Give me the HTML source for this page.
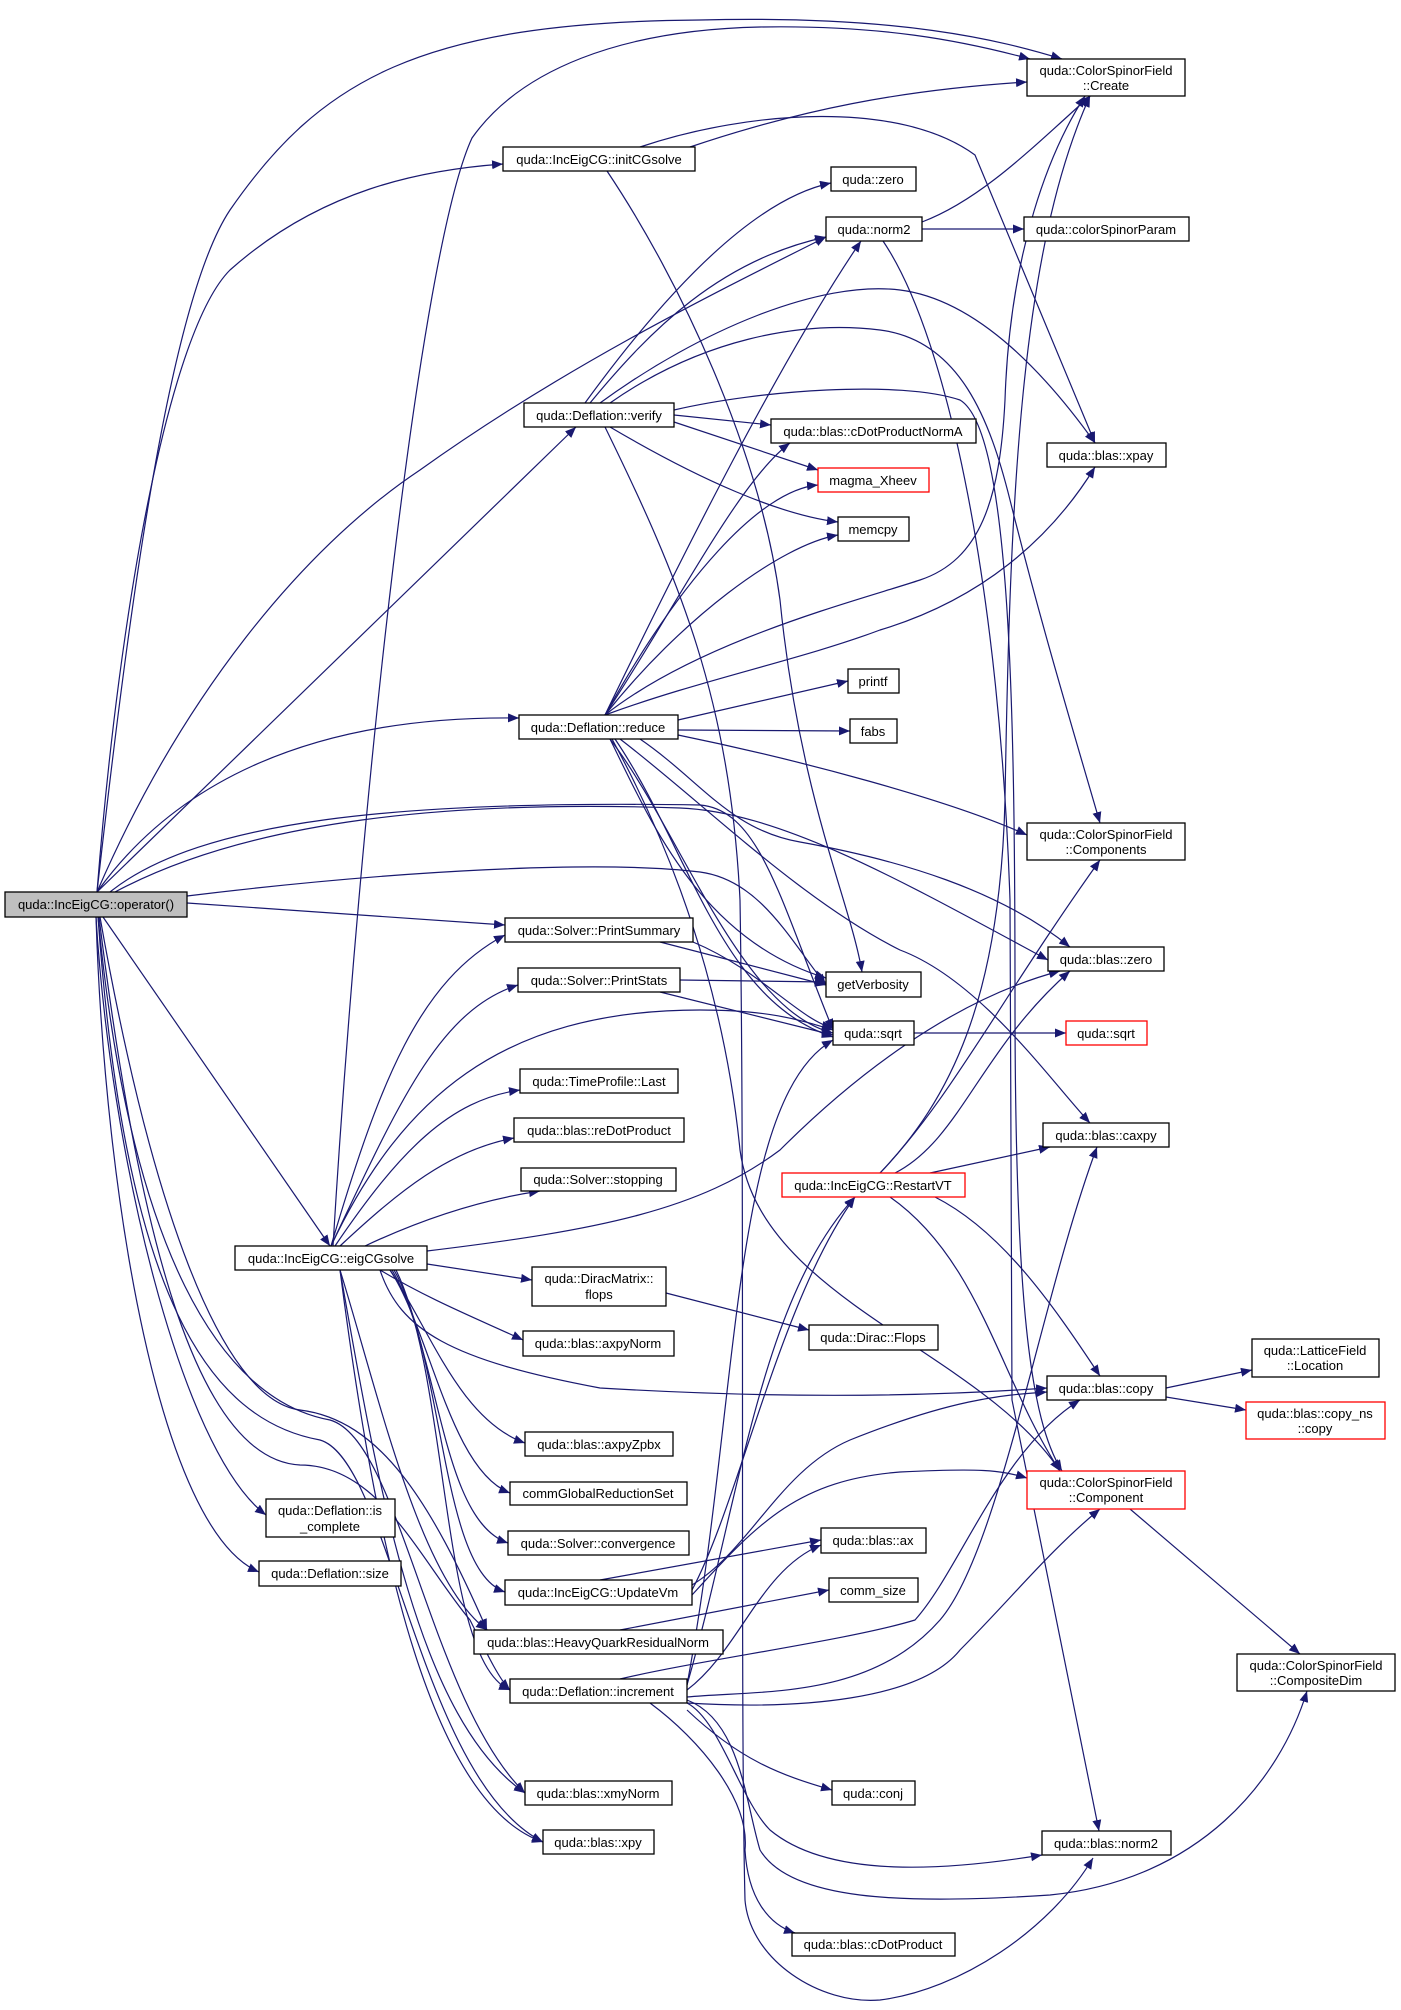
<!DOCTYPE html>
<html><head><meta charset="utf-8"><style>
html,body{margin:0;padding:0;background:#fff;}
svg{display:block;}
text{font-family:"Liberation Sans",Arial,sans-serif;font-size:13px;fill:#000;text-anchor:middle;}
.e{fill:none;stroke:#191970;stroke-width:1.2;marker-end:url(#a);}
.n{fill:#fff;stroke:#000;stroke-width:1.3;}
.r{fill:#fff;stroke:#ff0000;stroke-width:1.3;}
</style></head><body>
<svg width="1401" height="2010" viewBox="0 0 1401 2010" xmlns="http://www.w3.org/2000/svg">
<defs><marker id="a" markerUnits="userSpaceOnUse" markerWidth="12" markerHeight="10" refX="11" refY="4.5" orient="auto"><path d="M0,0 L11,4.5 L0,9 z" fill="#191970"/></marker></defs>
<g>
<path class="e" d="M97,892 C130,600 170,300 230,210 C320,80 420,22 700,20 C900,15 1000,40 1062,59"/>
<path class="e" d="M97,892 C120,600 170,330 230,270 C320,190 420,170 503,164"/>
<path class="e" d="M97,892 L576,427"/>
<path class="e" d="M97,892 C180,700 300,550 420,470 C560,370 700,300 826,237"/>
<path class="e" d="M97,892 C170,790 300,715 519,718"/>
<path class="e" d="M110,892 C200,820 400,800 700,805 C760,810 780,900 833,1030"/>
<path class="e" d="M115,892 C250,820 450,800 680,808 C780,812 900,880 1048,960"/>
<path class="e" d="M187,896 C400,870 600,860 700,872 C760,880 790,940 826,985"/>
<path class="e" d="M187,903 L505,925"/>
<path class="e" d="M103,917 L330,1246"/>
<path class="e" d="M96,917 C110,1150 180,1450 266,1515"/>
<path class="e" d="M96,917 C105,1200 160,1530 259,1572"/>
<path class="e" d="M100,917 C150,1200 220,1400 300,1410 C380,1420 430,1500 487,1630"/>
<path class="e" d="M99,917 C140,1250 200,1460 300,1465 C380,1465 420,1560 470,1620 C490,1660 500,1680 510,1690"/>
<path class="e" d="M98,917 C130,1250 220,1400 330,1420 C400,1440 430,1700 525,1793"/>
<path class="e" d="M98,917 C125,1300 210,1420 320,1440 C390,1460 420,1780 543,1842"/>
<path class="e" d="M690,147 C800,110 900,90 1027,82"/>
<path class="e" d="M640,147 C750,110 900,100 975,155 L1095,443"/>
<path class="e" d="M607,171 C680,280 760,450 780,600 C800,800 850,900 862,972"/>
<path class="e" d="M333,1246 C360,800 420,250 472,138 C520,70 620,30 760,27 C880,25 960,40 1030,59"/>
<path class="e" d="M585,403 C660,300 750,200 831,183"/>
<path class="e" d="M590,403 C650,330 720,260 826,237"/>
<path class="e" d="M600,403 C700,330 820,280 900,290 C980,300 1050,380 1095,443"/>
<path class="e" d="M610,403 C700,340 800,320 880,330 C960,340 990,420 1010,500 C1040,620 1070,720 1100,823"/>
<path class="e" d="M674,415 L771,425"/>
<path class="e" d="M674,422 L818,470"/>
<path class="e" d="M610,427 C700,480 780,515 838,522"/>
<path class="e" d="M674,410 C760,390 900,380 960,400 C1010,430 1015,700 1015,1000 C1015,1300 1030,1420 1062,1471"/>
<path class="e" d="M605,427 C680,580 730,700 740,900 C745,1200 740,1700 745,1900 C750,1960 820,2005 880,2000 C960,1990 1050,1930 1093,1858"/>
<path class="e" d="M922,222 C980,200 1030,150 1090,96"/>
<path class="e" d="M922,229 L1024,229"/>
<path class="e" d="M883,241 C950,340 1000,600 1010,900 L1012,1400 L1099,1831"/>
<path class="e" d="M605,715 C680,560 780,360 861,241"/>
<path class="e" d="M605,715 C680,600 740,480 790,443"/>
<path class="e" d="M605,715 C680,580 760,490 818,485"/>
<path class="e" d="M605,715 C680,620 780,545 838,535"/>
<path class="e" d="M605,715 C700,640 860,600 920,580 C980,560 1000,500 1005,400 C1010,250 1050,150 1085,96"/>
<path class="e" d="M605,715 C700,680 800,660 880,630 C980,600 1050,540 1095,467"/>
<path class="e" d="M678,720 L848,681"/>
<path class="e" d="M678,730 L850,731"/>
<path class="e" d="M678,735 C800,760 950,800 1027,835"/>
<path class="e" d="M640,739 C700,780 730,830 800,842 C900,860 1000,890 1070,947"/>
<path class="e" d="M610,739 C650,820 700,940 826,978"/>
<path class="e" d="M610,739 C680,830 740,1010 833,1033"/>
<path class="e" d="M615,739 C690,850 720,1000 833,1037"/>
<path class="e" d="M620,739 C700,800 800,900 900,950 C980,980 1050,1080 1090,1123"/>
<path class="e" d="M612,739 C700,900 730,1050 740,1150 C760,1300 980,1350 1060,1471"/>
<path class="e" d="M660,942 L826,985"/>
<path class="e" d="M693,942 C760,970 800,1020 833,1028"/>
<path class="e" d="M680,980 L826,982"/>
<path class="e" d="M660,992 L833,1035"/>
<path class="e" d="M331,1246 C380,1080 420,980 505,935"/>
<path class="e" d="M331,1246 C400,1100 440,1010 518,985"/>
<path class="e" d="M331,1246 C400,1100 500,1010 700,1010 C770,1010 800,1020 833,1030"/>
<path class="e" d="M335,1246 C400,1150 450,1100 520,1090"/>
<path class="e" d="M340,1246 C400,1190 450,1150 514,1138"/>
<path class="e" d="M365,1246 C420,1220 480,1200 540,1191"/>
<path class="e" d="M427,1251 C600,1230 700,1210 780,1150 C850,1080 950,1000 1060,971"/>
<path class="e" d="M427,1264 L532,1280"/>
<path class="e" d="M380,1270 C430,1300 480,1320 523,1340"/>
<path class="e" d="M380,1270 C400,1330 450,1360 600,1388 C800,1400 950,1395 1047,1388"/>
<path class="e" d="M390,1270 C430,1330 460,1420 525,1443"/>
<path class="e" d="M390,1270 C430,1330 450,1470 510,1493"/>
<path class="e" d="M392,1270 C440,1350 440,1520 508,1543"/>
<path class="e" d="M394,1270 C445,1360 440,1570 505,1592"/>
<path class="e" d="M340,1270 C380,1400 420,1580 487,1630"/>
<path class="e" d="M396,1270 C450,1380 440,1660 510,1690"/>
<path class="e" d="M340,1270 C380,1500 420,1720 525,1793"/>
<path class="e" d="M340,1270 C370,1500 420,1800 543,1842"/>
<path class="e" d="M692,1585 C750,1550 780,1470 850,1440 C950,1400 1000,1395 1047,1392"/>
<path class="e" d="M600,1580 L821,1540"/>
<path class="e" d="M692,1590 C740,1500 780,1300 855,1197"/>
<path class="e" d="M692,1595 C760,1520 800,1480 900,1472 C980,1468 1000,1470 1027,1478"/>
<path class="e" d="M620,1630 L829,1590"/>
<path class="e" d="M687,1697 C760,1690 870,1700 940,1620 C1000,1550 1040,1300 1097,1147"/>
<path class="e" d="M620,1679 C700,1660 850,1640 915,1620 C960,1570 1000,1450 1080,1400"/>
<path class="e" d="M687,1703 C800,1710 920,1700 960,1650 C1010,1600 1050,1550 1100,1509"/>
<path class="e" d="M687,1690 C740,1650 760,1570 821,1545"/>
<path class="e" d="M687,1685 C740,1500 760,1300 855,1197"/>
<path class="e" d="M687,1685 C740,1400 730,1100 833,1040"/>
<path class="e" d="M687,1710 C740,1760 780,1775 832,1790"/>
<path class="e" d="M687,1703 C720,1720 740,1800 770,1830 C830,1880 950,1870 1042,1855"/>
<path class="e" d="M650,1703 C700,1740 750,1800 745,1850 C748,1900 770,1925 795,1933"/>
<path class="e" d="M687,1700 C740,1720 745,1800 760,1850 C790,1900 900,1905 1050,1895 C1200,1880 1280,1780 1307,1691"/>
<path class="e" d="M880,1173 C950,1100 1000,1000 1005,800 C1010,500 1020,250 1090,96"/>
<path class="e" d="M880,1173 C950,1100 1000,1000 1100,860"/>
<path class="e" d="M895,1173 C960,1140 980,1050 1070,971"/>
<path class="e" d="M930,1173 L1050,1147"/>
<path class="e" d="M935,1197 C1000,1230 1050,1300 1100,1376"/>
<path class="e" d="M890,1197 C980,1260 1000,1380 1060,1471"/>
<path class="e" d="M666,1293 L809,1330"/>
<path class="e" d="M914,1033 L1066,1033"/>
<path class="e" d="M1166,1388 L1252,1370"/>
<path class="e" d="M1166,1397 L1246,1410"/>
<path class="e" d="M1130,1509 L1300,1654"/>
</g>
<rect x="5" y="892" width="182" height="25" fill="#bfbfbf" stroke="#000" stroke-width="1.3"/><text x="96" y="909">quda::IncEigCG::operator()</text>
<rect class="n" x="503" y="147" width="192" height="24"/><text x="599" y="164">quda::IncEigCG::initCGsolve</text>
<rect class="n" x="524" y="403" width="150" height="24"/><text x="599" y="420">quda::Deflation::verify</text>
<rect class="n" x="519" y="715" width="159" height="24"/><text x="598" y="732">quda::Deflation::reduce</text>
<rect class="n" x="505" y="918" width="188" height="24"/><text x="599" y="935">quda::Solver::PrintSummary</text>
<rect class="n" x="518" y="968" width="162" height="24"/><text x="599" y="985">quda::Solver::PrintStats</text>
<rect class="n" x="520" y="1069" width="158" height="24"/><text x="599" y="1086">quda::TimeProfile::Last</text>
<rect class="n" x="514" y="1118" width="170" height="24"/><text x="599" y="1135">quda::blas::reDotProduct</text>
<rect class="n" x="521" y="1168" width="155" height="23"/><text x="598" y="1184">quda::Solver::stopping</text>
<rect class="n" x="235" y="1246" width="192" height="24"/><text x="331" y="1263">quda::IncEigCG::eigCGsolve</text>
<rect class="n" x="532" y="1267" width="134" height="39"/><text x="599" y="1283">quda::DiracMatrix::</text><text x="599" y="1299">flops</text>
<rect class="n" x="523" y="1331" width="151" height="25"/><text x="598" y="1348">quda::blas::axpyNorm</text>
<rect class="n" x="525" y="1432" width="148" height="24"/><text x="599" y="1449">quda::blas::axpyZpbx</text>
<rect class="n" x="510" y="1482" width="177" height="23"/><text x="598" y="1498">commGlobalReductionSet</text>
<rect class="n" x="508" y="1531" width="181" height="24"/><text x="598" y="1548">quda::Solver::convergence</text>
<rect class="n" x="505" y="1580" width="187" height="25"/><text x="598" y="1597">quda::IncEigCG::UpdateVm</text>
<rect class="n" x="474" y="1630" width="249" height="24"/><text x="598" y="1647">quda::blas::HeavyQuarkResidualNorm</text>
<rect class="n" x="510" y="1679" width="177" height="24"/><text x="598" y="1696">quda::Deflation::increment</text>
<rect class="n" x="525" y="1781" width="147" height="24"/><text x="598" y="1798">quda::blas::xmyNorm</text>
<rect class="n" x="543" y="1830" width="111" height="24"/><text x="598" y="1847">quda::blas::xpy</text>
<rect class="n" x="266" y="1499" width="129" height="38"/><text x="330" y="1515">quda::Deflation::is</text><text x="330" y="1531">_complete</text>
<rect class="n" x="259" y="1561" width="142" height="25"/><text x="330" y="1578">quda::Deflation::size</text>
<rect class="n" x="831" y="167" width="85" height="24"/><text x="873" y="184">quda::zero</text>
<rect class="n" x="826" y="217" width="96" height="24"/><text x="874" y="234">quda::norm2</text>
<rect class="n" x="771" y="419" width="205" height="24"/><text x="873" y="436">quda::blas::cDotProductNormA</text>
<rect class="r" x="818" y="468" width="111" height="24"/><text x="873" y="485">magma_Xheev</text>
<rect class="n" x="838" y="517" width="71" height="24"/><text x="873" y="534">memcpy</text>
<rect class="n" x="848" y="669" width="51" height="24"/><text x="873" y="686">printf</text>
<rect class="n" x="850" y="719" width="47" height="24"/><text x="873" y="736">fabs</text>
<rect class="n" x="826" y="972" width="95" height="25"/><text x="873" y="989">getVerbosity</text>
<rect class="n" x="833" y="1021" width="81" height="24"/><text x="873" y="1038">quda::sqrt</text>
<rect class="r" x="782" y="1173" width="183" height="24"/><text x="873" y="1190">quda::IncEigCG::RestartVT</text>
<rect class="n" x="809" y="1325" width="129" height="25"/><text x="873" y="1342">quda::Dirac::Flops</text>
<rect class="n" x="821" y="1528" width="105" height="25"/><text x="873" y="1545">quda::blas::ax</text>
<rect class="n" x="829" y="1578" width="89" height="24"/><text x="873" y="1595">comm_size</text>
<rect class="n" x="832" y="1781" width="83" height="24"/><text x="873" y="1798">quda::conj</text>
<rect class="n" x="792" y="1933" width="163" height="23"/><text x="873" y="1949">quda::blas::cDotProduct</text>
<rect class="n" x="1027" y="59" width="158" height="37"/><text x="1106" y="75">quda::ColorSpinorField</text><text x="1106" y="90">::Create</text>
<rect class="n" x="1024" y="217" width="165" height="24"/><text x="1106" y="234">quda::colorSpinorParam</text>
<rect class="n" x="1047" y="443" width="119" height="24"/><text x="1106" y="460">quda::blas::xpay</text>
<rect class="n" x="1027" y="823" width="158" height="37"/><text x="1106" y="839">quda::ColorSpinorField</text><text x="1106" y="854">::Components</text>
<rect class="n" x="1048" y="947" width="116" height="24"/><text x="1106" y="964">quda::blas::zero</text>
<rect class="r" x="1066" y="1021" width="81" height="24"/><text x="1106" y="1038">quda::sqrt</text>
<rect class="n" x="1043" y="1123" width="126" height="24"/><text x="1106" y="1140">quda::blas::caxpy</text>
<rect class="n" x="1047" y="1376" width="119" height="24"/><text x="1106" y="1393">quda::blas::copy</text>
<rect class="r" x="1027" y="1471" width="158" height="38"/><text x="1106" y="1487">quda::ColorSpinorField</text><text x="1106" y="1502">::Component</text>
<rect class="n" x="1042" y="1831" width="129" height="24"/><text x="1106" y="1848">quda::blas::norm2</text>
<rect class="n" x="1237" y="1654" width="158" height="37"/><text x="1316" y="1670">quda::ColorSpinorField</text><text x="1316" y="1685">::CompositeDim</text>
<rect class="n" x="1252" y="1339" width="127" height="38"/><text x="1315" y="1355">quda::LatticeField</text><text x="1315" y="1370">::Location</text>
<rect class="r" x="1246" y="1402" width="139" height="37"/><text x="1315" y="1418">quda::blas::copy_ns</text><text x="1315" y="1433">::copy</text>
</svg>
</body></html>
